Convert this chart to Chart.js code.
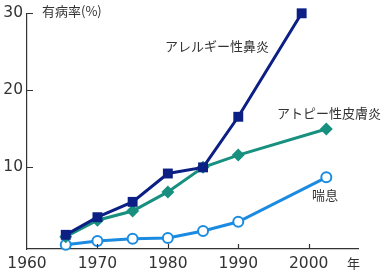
<!DOCTYPE html>
<html lang="ja">
<head>
<meta charset="utf-8">
<script src="https://cdn.jsdelivr.net/npm/chart.js@4.4.1/dist/chart.umd.min.js"></script>
<style>
  html, body { margin: 0; padding: 0; background: #fff; }
  #wrap { width: 382px; height: 272px; }
</style>
</head>
<body>
<div id="wrap"><canvas id="chart" width="382" height="272"></canvas></div>
<script>
// data
const rhinitisYears = [1965.5, 1970, 1975, 1980, 1985, 1990, 1999];
const rhinitisRate = [1.1, 3.4, 5.4, 9.1, 9.9, 16.5, 30.0];

const atopicYears = [1965.5, 1970, 1975, 1980, 1985, 1990, 2002.5];
const atopicRate = [0.85, 3.0, 4.2, 6.7, 9.9, 11.5, 14.9];

const asthmaYears = [1965.5, 1970, 1975, 1980, 1985, 1990, 2002.5];
const asthmaRate = [-0.2, 0.3, 0.6, 0.7, 1.6, 2.8, 8.6];

const xTicks = [1960, 1970, 1980, 1990, 2000];
const yTicks = [10, 20, 30];

const textFont = '"Noto Sans CJK JP", "Noto Sans", sans-serif';
const numFont = '"DejaVu Sans", sans-serif';
const inkColor = '#333';

function toPoints(xs, ys) {
    return xs.map((x, i) => ({ x: x, y: ys[i] }));
}

// small inward tick marks, axis title and series labels
const decorations = {
    id: 'decorations',
    afterDraw(chart) {
        const ctx = chart.ctx;
        const xs = chart.scales.x;
        const ys = chart.scales.y;
        const area = chart.chartArea;
        ctx.save();
        ctx.strokeStyle = inkColor;
        ctx.lineWidth = 1.2;
        ctx.beginPath();
        yTicks.forEach(v => {
            const py = Math.round(ys.getPixelForValue(v)) + 0.5;
            ctx.moveTo(area.left, py);
            ctx.lineTo(area.left + 6, py);
        });
        xTicks.slice(1).forEach(v => {
            const px = Math.round(xs.getPixelForValue(v)) + 0.5;
            ctx.moveTo(px, area.bottom);
            ctx.lineTo(px, area.bottom - 5);
        });
        ctx.stroke();

        ctx.fillStyle = inkColor;
        ctx.font = '13px ' + textFont;
        ctx.textBaseline = 'middle';
        ctx.textAlign = 'left';
        ctx.fillText('有病率(%)', 42, 11);
        ctx.fillText('アレルギー性鼻炎', 165, 46);
        ctx.fillText('アトピー性皮膚炎', 277, 113);
        ctx.fillText('喘息', 312, 195);
        ctx.fillText('年', 347, 263);
        ctx.restore();
    }
};

const ctx = document.getElementById('chart').getContext('2d');
new Chart(ctx, {
    type: 'line',
    data: {
        datasets: [
            {
                label: 'アレルギー性鼻炎',
                data: toPoints(rhinitisYears, rhinitisRate),
                borderColor: '#0c1f84',
                backgroundColor: '#0c1f84',
                borderWidth: 3,
                pointStyle: 'rect',
                pointRadius: 7,
                pointBorderWidth: 0,
                clip: false
            },
            {
                label: 'アトピー性皮膚炎',
                data: toPoints(atopicYears, atopicRate),
                borderColor: '#17907f',
                backgroundColor: '#17907f',
                borderWidth: 3,
                pointStyle: 'rectRot',
                pointRadius: 6.5,
                pointBorderWidth: 0,
                clip: false
            },
            {
                label: '喘息',
                data: toPoints(asthmaYears, asthmaRate),
                borderColor: '#1a8be0',
                backgroundColor: '#ffffff',
                borderWidth: 3,
                pointStyle: 'circle',
                pointRadius: 5,
                pointBorderWidth: 2,
                clip: false
            }
        ]
    },
    options: {
        responsive: false,
        animation: false,
        layout: { padding: { top: 11, right: 24, left: 0, bottom: 0 } },
        elements: { line: { tension: 0 } },
        plugins: {
            legend: { display: false },
            tooltip: { enabled: false }
        },
        scales: {
            x: {
                type: 'linear',
                min: 1960,
                max: 2007,
                afterBuildTicks: s => { s.ticks = xTicks.map(v => ({ value: v })); },
                afterFit: s => { s.height = 23; },
                grid: { display: false, drawTicks: false },
                border: { display: true, color: inkColor, width: 1.2 },
                ticks: {
                    color: inkColor,
                    padding: 6,
                    maxRotation: 0,
                    autoSkip: false,
                    font: { family: numFont, size: 15.5 },
                    callback: v => String(v)
                }
            },
            y: {
                min: -0.75,
                max: 30,
                afterBuildTicks: s => { s.ticks = yTicks.map(v => ({ value: v })); },
                afterFit: s => { s.width = 27; },
                grid: { display: false, drawTicks: false },
                border: { display: true, color: inkColor, width: 1.2 },
                ticks: {
                    color: inkColor,
                    padding: 4,
                    font: { family: numFont, size: 15.5 },
                    callback: v => String(v)
                }
            }
        }
    },
    plugins: [decorations]
});
</script>
</body>
</html>
